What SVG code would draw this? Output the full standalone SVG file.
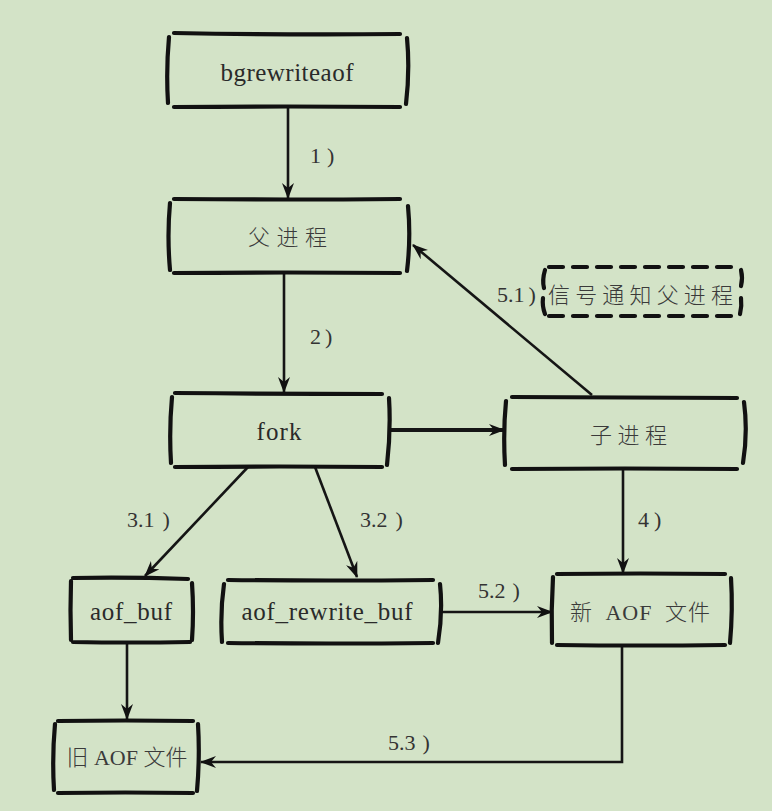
<svg xmlns="http://www.w3.org/2000/svg" width="772" height="811" viewBox="0 0 772 811">
<defs>
<style>
.bg{fill:#d3e3c7}
.edge{fill:none;stroke:#111;stroke-width:4.2;stroke-linecap:round}
.dash{fill:none;stroke:#111;stroke-width:4.2;stroke-linecap:round;stroke-dasharray:14 10}
.conn{fill:none;stroke:#151515;stroke-width:2.6}
.thick{stroke-width:4}
.lat{font-family:'Liberation Serif','Noto Sans CJK SC',serif;font-size:25px;fill:#2a2a2a;text-anchor:middle}
.cjk{font-family:'Liberation Serif','Noto Sans CJK SC',sans-serif;font-size:22px;font-weight:300;fill:#3a3a3a;text-anchor:middle}
.lbl{font-family:'Liberation Serif',serif;font-size:22px;fill:#333}
</style>
<marker id="ah" viewBox="0 0 16 12" refX="15" refY="6" markerWidth="16" markerHeight="12" markerUnits="userSpaceOnUse" orient="auto">
<path d="M0,0 L16,6 L0,12 L5,6 z" fill="#111"/>
</marker>
</defs>
<rect class="bg" x="0" y="0" width="772" height="811"/>

<g id="connectors">
<path class="conn" d="M288,108 L288,198" marker-end="url(#ah)"/>
<path class="conn" d="M284,274 L284,392" marker-end="url(#ah)"/>
<path class="conn thick" d="M390,430 L504,430" marker-end="url(#ah)"/>
<path class="conn" d="M592,395 L413,245" marker-end="url(#ah)"/>
<path class="conn" d="M248,467 L145,576" marker-end="url(#ah)"/>
<path class="conn" d="M315,467 L357,577" marker-end="url(#ah)"/>
<path class="conn" d="M623,469 L623,573" stroke-width="3.4" marker-end="url(#ah)"/>
<path class="conn" d="M127,643 L127,719" marker-end="url(#ah)"/>
<path class="conn" d="M441,612 L552,612" marker-end="url(#ah)"/>
<path class="conn" d="M622,646 L622,762 L201,762" stroke-width="3" marker-end="url(#ah)"/>
<text class="lbl" x="310" y="163">1<tspan dx="6">)</tspan></text>
<text class="lbl" x="310" y="344">2<tspan dx="4">)</tspan></text>
<text class="lbl" x="497" y="302">5.1<tspan dx="4">)</tspan></text>
<text class="lbl" x="127" y="527" font-size="23">3.1<tspan dx="8">)</tspan></text>
<text class="lbl" x="360" y="527" font-size="23">3.2<tspan dx="8">)</tspan></text>
<text class="lbl" x="638" y="527" font-size="23">4<tspan dx="5">)</tspan></text>
<text class="lbl" x="478" y="598" font-size="23">5.2<tspan dx="7">)</tspan></text>
<text class="lbl" x="388" y="750" font-size="23">5.3<tspan dx="7">)</tspan></text>
</g>

<g id="bgrewriteaof">
<path class="edge" d="M174,33 Q287,35 400,34 M174,107 Q287,106 400,107 M169,37 Q166,70 168,103 M407,38 Q410,70 406,104"/>
<text class="lat" x="287" y="81" textLength="133" lengthAdjust="spacing">bgrewriteaof</text>
</g>

<g id="parent">
<path class="edge" d="M174,199 Q287,200 400,199 M174,273 Q287,272 400,273 M170,203 Q167,236 170,270 M408,206 Q411,238 407,271"/>
<text class="cjk" x="287.5" y="245" textLength="79" lengthAdjust="spacing">父进程</text>
</g>

<g id="signal">
<path class="dash" d="M549,267 L737,267 M549,316 L737,316"/>
<path class="edge" d="M545,270 Q542,280 544,288 M543,298 Q542,306 545,314 M741,270 Q743,278 741,286 M741,298 Q742,306 740,314"/>
<text class="cjk" x="640.5" y="303" textLength="185" lengthAdjust="spacing">信号通知父进程</text>
</g>

<g id="fork">
<path class="edge" d="M175,393 Q280,394 382,394 M175,467 Q280,466 382,467 M172,397 Q169,430 171,463 M389,398 Q391,430 387,465"/>
<text class="lat" x="279" y="440" textLength="45" lengthAdjust="spacing">fork</text>
</g>

<g id="child">
<path class="edge" d="M512,397 Q625,398 737,398 M512,469 Q625,468 737,469 M506,401 Q503,432 505,465 M744,402 Q748,432 743,463"/>
<text class="cjk" x="628.5" y="443" textLength="77" lengthAdjust="spacing">子进程</text>
</g>

<g id="aof_buf">
<path class="edge" d="M73,578 Q130,577 188,579 M73,642 Q130,643 190,642 M71,581 Q70,610 71,640 M192,583 Q194,612 192,640"/>
<text class="lat" x="131" y="620" textLength="82" lengthAdjust="spacing">aof_buf</text>
</g>

<g id="aof_rewrite_buf">
<path class="edge" d="M228,580 Q330,581 433,580 M228,643 Q330,644 433,643 M224,584 Q220,612 222,642 M440,584 Q443,612 438,643"/>
<text class="lat" x="327" y="620" textLength="171" lengthAdjust="spacing">aof_rewrite_buf</text>
</g>

<g id="new_aof">
<path class="edge" d="M557,574 Q640,573 725,574 M557,645 Q640,646 725,645 M553,577 Q551,610 552,643 M731,578 Q733,610 730,643"/>
<text class="cjk" x="640.5" y="620" font-size="24" word-spacing="6" letter-spacing="1">新 AOF 文件</text>
</g>

<g id="old_aof">
<path class="edge" d="M58,721 Q125,720 193,721 M58,793 Q125,792 193,793 M55,724 Q52,757 54,790 M198,724 Q200,757 197,791"/>
<text class="cjk" x="127" y="765" font-size="24">旧 AOF 文件</text>
</g>
</svg>
